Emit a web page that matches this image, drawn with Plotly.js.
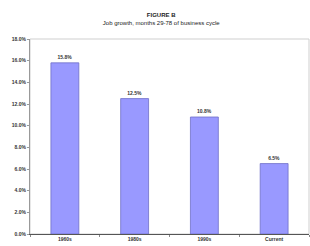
<!DOCTYPE html>
<html>
<head>
<meta charset="utf-8">
<script src="https://cdn.plot.ly/plotly-3.0.1.min.js"></script>
<style>html,body{margin:0;padding:0;background:#fff;}#chart{width:310px;height:246px;}</style>
</head>
<body>
<div id="chart"></div>
<script>
var categories = ["1960s", "1980s", "1990s", "Current"];
var growth = [15.8, 12.5, 10.8, 6.5];
var barLabels = ["15.8%", "12.5%", "10.8%", "6.5%"];
var yTicks = [0, 2, 4, 6, 8, 10, 12, 14, 16, 18];
var yTickLabels = ["0.0%", "2.0%", "4.0%", "6.0%", "8.0%", "10.0%", "12.0%", "14.0%", "16.0%", "18.0%"];

function bold(s) { return "<b>" + s + "</b>"; }

var trace = {
  type: "bar",
  x: categories,
  y: growth,
  text: barLabels.map(bold),
  textposition: "outside",
  textfont: {family: "Liberation Sans, Arial, sans-serif", size: 5, color: "#333"},
  cliponaxis: false,
  width: 0.4,
  marker: {color: "#9999ff", line: {color: "#7070c8", width: 0.8}},
  hoverinfo: "none"
};

var layout = {
  width: 310, height: 246,
  margin: {l: 30, r: 1, t: 39, b: 12},
  paper_bgcolor: "#fff", plot_bgcolor: "#fff",
  showlegend: false,
  title: {
    text: "<b>FIGURE B</b><br>Job growth, months 29-78 of business cycle",
    x: 0.52, xanchor: "center", y: 0.93, yanchor: "middle",
    font: {family: "Liberation Sans, Arial, sans-serif", size: 6, color: "#222"}
  },
  xaxis: {
    type: "category",
    tickvals: categories, ticktext: categories.map(bold),
    showgrid: false,
    showline: true, linecolor: "#555", linewidth: 1,
    ticks: "outside", ticklen: 2, tickcolor: "#888",
    tickson: "boundaries",
    tickfont: {family: "Liberation Sans, Arial, sans-serif", size: 5, color: "#333"},
    fixedrange: true
  },
  yaxis: {
    range: [0, 18],
    tickvals: yTicks, ticktext: yTickLabels.map(bold),
    showgrid: false, zeroline: false,
    showline: true, linecolor: "#999", linewidth: 1,
    ticks: "outside", ticklen: 2, tickcolor: "#999",
    tickfont: {family: "Liberation Sans, Arial, sans-serif", size: 5, color: "#333"},
    fixedrange: true
  },
  shapes: [{
    type: "rect", xref: "paper", yref: "paper", x0: 0, x1: 1, y0: 0, y1: 1,
    line: {color: "#cfcfcf", width: 1}, layer: "below"
  }]
};

Plotly.newPlot("chart", [trace], layout, {staticPlot: true, displayModeBar: false});
</script>
</body>
</html>
